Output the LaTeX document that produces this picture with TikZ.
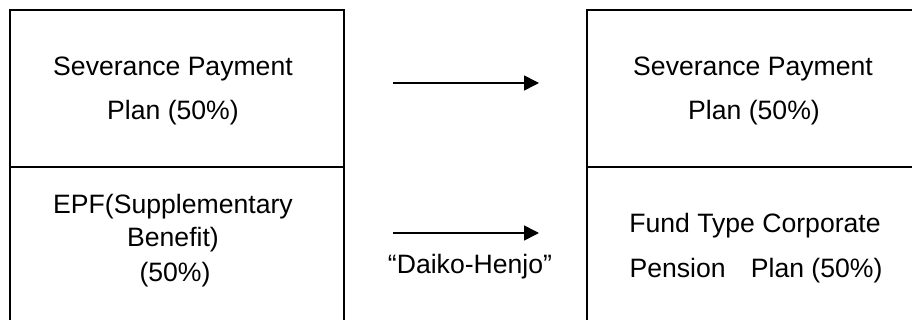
\documentclass[tikz,border=0pt]{standalone}
\usepackage{fontspec}
\setmainfont{Liberation Sans}
\usetikzlibrary{arrows.meta}
\tikzset{
  boxst/.style={draw=black, line width=2pt, inner sep=0pt, outer sep=0pt},
  txt/.style={anchor=base, inner sep=0pt, font=\fontsize{26.6}{30}\selectfont},
  conn/.style={line width=1.6pt, -{Triangle[length=15pt,width=15pt]}}
}
\begin{document}
\begin{tikzpicture}[x=1pt,y=-1pt]
\useasboundingbox (0,0) rectangle (912,320);
\clip (0,0) rectangle (912,320);
% boxes
\node[boxst, minimum width=334pt, minimum height=157pt] (lt) at (177,88.5) {};
\node[boxst, minimum width=334pt, minimum height=193pt] (lb) at (177,263.5) {};
\node[boxst, minimum width=373pt, minimum height=157pt] (rt) at (773.5,88.5) {};
\node[boxst, minimum width=373pt, minimum height=193pt] (rb) at (773.5,263.5) {};
% left texts
\node[txt] (lt1) at (173,76) {Severance Payment};
\node[txt] (lt2) at (173,120) {Plan (50\%)};
\node[txt] (lb1) at (173,214) {EPF(Supplementary};
\node[txt] (lb2) at (173,247) {Benefit)};
\node[txt] (lb3) at (175,281) {(50\%)};
% right texts
\node[txt] (rt1) at (753,76) {Severance Payment};
\node[txt] (rt2) at (754,120) {Plan (50\%)};
\node[txt] (rb1) at (755,233) {Fund Type Corporate};
\node[txt] (rb2) at (756,277) {Pension\hspace*{0.95em}Plan (50\%)};
% arrows
\coordinate (a1s) at (393,83);
\coordinate (a1e) at (539,83);
\coordinate (a2s) at (393,233);
\coordinate (a2e) at (539,233);
\draw[conn] (a1s) -- (a1e);
\draw[conn] (a2s) -- (a2e);
\node[txt] (dh) at (470,273) {“Daiko-Henjo”};
\end{tikzpicture}
\end{document}
